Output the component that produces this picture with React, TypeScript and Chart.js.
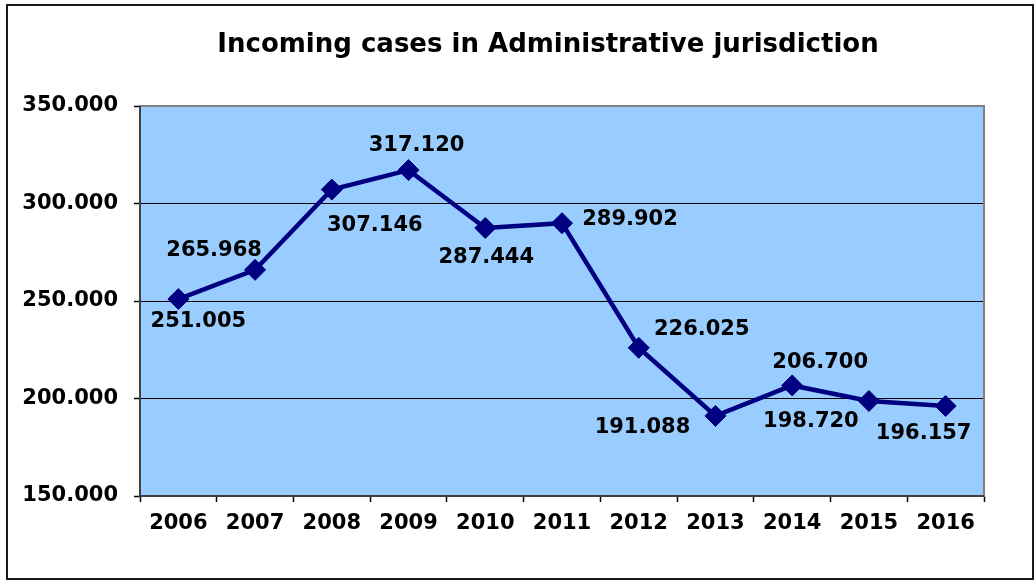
import { useEffect, useRef } from 'react';
import { Chart, registerables } from 'chart.js';

Chart.register(...registerables);

const chartTitle = 'Incoming cases in Administrative jurisdiction';
const years = ['2006', '2007', '2008', '2009', '2010', '2011', '2012', '2013', '2014', '2015', '2016'];
const incomingCases = [251005, 265968, 307146, 317120, 287444, 289902, 226025, 191088, 206700, 198720, 196157];
const yMin = 150000;
const yMax = 350000;
const yStep = 50000;

// label placement relative to each point (dx, dy)
const LABEL_OFFSETS: [number, number][] = [
  [20, 23], [-41, -19], [43, 36], [8, -25], [1, 30], [68, -4],
  [63, -18], [-73, 12], [28, -23], [-58, 21], [-22, 28],
];

const FONT_FAMILY = '"DejaVu Sans", Verdana, sans-serif';

function fmt(v: number): string {
  const t = Math.floor(v / 1000);
  const r = Math.round(v % 1000);
  return t + '.' + String(r).padStart(3, '0');
}

const decorPlugin = {
  id: 'decor',
  beforeDraw(chart: any) {
    const { ctx, chartArea: a } = chart;
    ctx.save();
    ctx.fillStyle = '#ffffff';
    ctx.fillRect(0, 0, chart.width, chart.height);
    ctx.strokeStyle = '#1a1a1a';
    ctx.lineWidth = 2;
    ctx.strokeRect(7, 5, 1026, 574);
    ctx.fillStyle = '#99CCFF';
    ctx.fillRect(a.left, a.top, a.right - a.left, a.bottom - a.top);
    ctx.font = 'bold 26px ' + FONT_FAMILY;
    ctx.fillStyle = '#000';
    ctx.textAlign = 'center';
    ctx.textBaseline = 'middle';
    ctx.fillText(chartTitle, 548, 45);
    ctx.restore();
  },
  beforeDatasetsDraw(chart: any) {
    const { ctx, chartArea: a } = chart;
    ctx.save();
    ctx.strokeStyle = '#808080';
    ctx.lineWidth = 2;
    ctx.strokeRect(a.left, a.top, a.right - a.left, a.bottom - a.top);
    ctx.strokeStyle = '#404040';
    ctx.beginPath();
    ctx.moveTo(a.left, a.top);
    ctx.lineTo(a.left, a.bottom);
    ctx.lineTo(a.right, a.bottom);
    ctx.stroke();
    ctx.restore();
  },
  afterDatasetsDraw(chart: any) {
    const { ctx } = chart;
    const meta = chart.getDatasetMeta(0);
    ctx.save();
    ctx.font = 'bold 21px ' + FONT_FAMILY;
    ctx.fillStyle = '#000';
    ctx.textAlign = 'center';
    ctx.textBaseline = 'middle';
    meta.data.forEach((pt: any, i: number) => {
      const [dx, dy] = LABEL_OFFSETS[i];
      ctx.fillText(fmt(incomingCases[i]), pt.x + dx, pt.y + dy);
    });
    ctx.restore();
  },
};

export default function App() {
  const ref = useRef<HTMLCanvasElement | null>(null);
  useEffect(() => {
    if (!ref.current) return;
    const tickFont = { family: FONT_FAMILY, weight: 'bold' as const, size: 21 };
    const chart = new Chart(ref.current, {
      type: 'line',
      data: {
        labels: years,
        datasets: [
          {
            data: incomingCases,
            borderColor: '#000080',
            backgroundColor: '#000080',
            borderWidth: 4.5,
            pointStyle: 'rectRot',
            pointRadius: 10.5,
            pointHoverRadius: 10.5,
            pointBorderWidth: 1,
            tension: 0,
          },
        ],
      },
      options: {
        animation: false,
        responsive: true,
        maintainAspectRatio: false,
        events: [],
        layout: { padding: { top: 106, right: 51, left: 0, bottom: 0 } },
        plugins: { legend: { display: false }, title: { display: false }, tooltip: { enabled: false } },
        scales: {
          x: {
            offset: true,
            grid: {
              offset: true,
              drawOnChartArea: false,
              drawTicks: true,
              tickLength: 6,
              tickColor: '#000',
              tickWidth: 1.5,
            },
            border: { display: false },
            ticks: { color: '#000', font: tickFont, padding: 9, maxRotation: 0, autoSkip: false },
            afterFit(s: any) {
              s.height = 85;
            },
          },
          y: {
            min: yMin,
            max: yMax,
            grid: {
              color: (c: any) => (c.tick && (c.tick.value === yMin || c.tick.value === yMax) ? 'rgba(0,0,0,0)' : '#000'),
              lineWidth: 1,
              drawTicks: true,
              tickLength: 6,
              tickColor: '#000',
              tickWidth: 1.5,
            },
            border: { display: false },
            ticks: {
              stepSize: yStep,
              color: '#000',
              font: tickFont,
              padding: 16,
              callback: (v: any) => fmt(Number(v)),
            },
            afterFit(s: any) {
              s.width = 140;
            },
          },
        },
      },
      plugins: [decorPlugin],
    });
    return () => chart.destroy();
  }, []);
  return (
    <div style={{ position: 'fixed', left: 0, top: 0, width: 1035, height: 581 }}>
      <canvas ref={ref} />
    </div>
  );
}
